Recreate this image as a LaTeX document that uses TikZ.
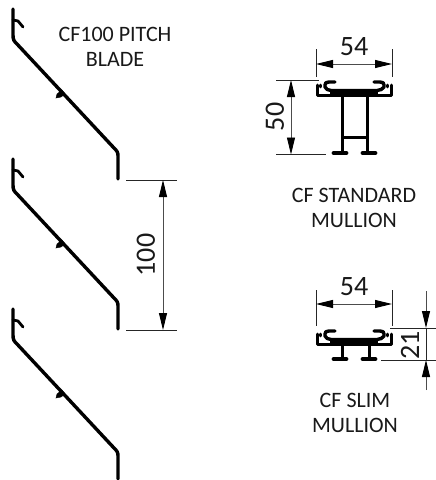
\documentclass[tikz,border=0pt]{standalone}
\usepackage{fontspec}
\setmainfont{Carlito}
\usetikzlibrary{arrows.meta}
\tikzset{
	label text/.style={font=\fontsize{22}{25}\selectfont,align=center,inner sep=0pt,text=black!90},
	dim text/.style={font=\fontsize{28}{28}\selectfont,inner sep=0pt,text=black!90},
	dim line/.style={black!70,line width=0.9pt,{Triangle[length=17pt,width=8pt,color=black]}-{Triangle[length=17pt,width=8pt,color=black]}},
	dim end/.style={black!85,line width=0.9pt},
	lead line/.style={black!70,line width=0.9pt,-{Triangle[length=17pt,width=8pt,color=black]}},
	blade/.pic={
		\draw[line width=3.4pt,line cap=round,line join=round] (13,9)--(13,35) .. controls (13,40) and (14,41) .. (17,44)--(114,148)
			.. controls (117,151) and (118,152) .. (118,156)--(118,179);
		\draw[line width=2.8pt,line cap=round,line join=round] (13,20)--(18,21)--(23,27);
		\draw[fill=black] (56,98)--(57,94)--(62,90)--(65,94)--(61,97)--cycle;
	},
	channel/.pic={
		\draw[line width=3pt,line cap=round,line join=round] (317,-10)--(317,0)--(391,0)--(391,-10);
		\draw[line width=2.6pt,line cap=round] (320.5,-10)--(320.5,-8) (387.5,-10)--(387.5,-8);
		\draw[line width=3.4pt,line cap=round,line join=round] (335,-13)--(329,-13) .. controls (326,-13) and (325,-12) .. (325,-10)--(325,-8)
			.. controls (326,-6) and (328,-4.5) .. (331,-4.5)--(377,-4.5) .. controls (380,-4.5) and (383,-6) .. (384,-8)--(384,-10)
			.. controls (384,-12) and (383,-13) .. (380,-13)--(374,-13);
		\fill (330,-4.5) rectangle (378,0);
	},
	foot/.style={line width=4.8pt,line cap=round}
}
\begin{document}
\begin{tikzpicture}[x=1pt,y=-1pt]
	\useasboundingbox (0,0) rectangle (436,480);
	\fill[white] (0,0) rectangle (436,480);
	\pic at (0,0) {blade};
	\pic at (0,150) {blade};
	\pic at (0,300) {blade};
	\node[label text] (bladelabel) at (115,46.5) {CF100 PITCH\\BLADE};
	% pitch
	\coordinate (pitchtop) at (163,180);
	\coordinate (pitchbottom) at (163,330);
	\draw[dim end] (126,180)--(177,180) (126,330)--(177,330);
	\draw[dim line] (pitchtop)--(pitchbottom);
	\node[dim text,rotate=90] (pitchdim) at (146,255) {100};
	% standard mullion
	\pic at (0,95) {channel};
	\draw[line width=3pt] (342,95)--(342,153) (367,95)--(367,153) (342,137)--(367,137);
	\draw[foot] (334,153)--(346,153) (363,153)--(375,153);
	\coordinate (stdleft) at (316,64);
	\coordinate (stdright) at (392,64);
	\coordinate (stdtop) at (291,80);
	\coordinate (stdbottom) at (291,154.5);
	\draw[dim end] (316,49)--(316,77) (392,49)--(392,77) (276,80)--(319,80) (276,154.5)--(326,154.5);
	\draw[dim line] (stdleft)--(stdright);
	\draw[dim line] (stdtop)--(stdbottom);
	\node[dim text] (stdwidth) at (354,46.5) {54};
	\node[dim text,rotate=90] (stdheight) at (275,117) {50};
	\node[label text] (stdlabel) at (354,207.5) {CF STANDARD\\MULLION};
	% slim mullion
	\pic at (0,344) {channel};
	\draw[line width=3pt] (342,344)--(342,359) (369,344)--(369,359);
	\draw[foot] (334,359)--(346,359) (363,359)--(375,359);
	\coordinate (slimleft) at (316,304);
	\coordinate (slimright) at (392,304);
	\coordinate (slimtop) at (426,328);
	\coordinate (slimbottom) at (426,360);
	\coordinate (slimabove) at (426,291);
	\coordinate (slimbelow) at (426,390);
	\draw[dim end] (316,290)--(316,326) (392,290)--(392,326) (390,328)--(436,328) (381,360)--(436,360);
	\draw[dim line] (slimleft)--(slimright);
	\draw[lead line] (slimabove)--(slimtop);
	\draw[lead line] (slimbelow)--(slimbottom);
	\draw[dim end] (slimtop)--(slimbottom);
	\node[dim text] (slimwidth) at (354,286.5) {54};
	\node[dim text,rotate=90] (slimheight) at (410,345) {21};
	\node[label text] (slimlabel) at (355,412.5) {CF SLIM\\MULLION};
\end{tikzpicture}
\end{document}
